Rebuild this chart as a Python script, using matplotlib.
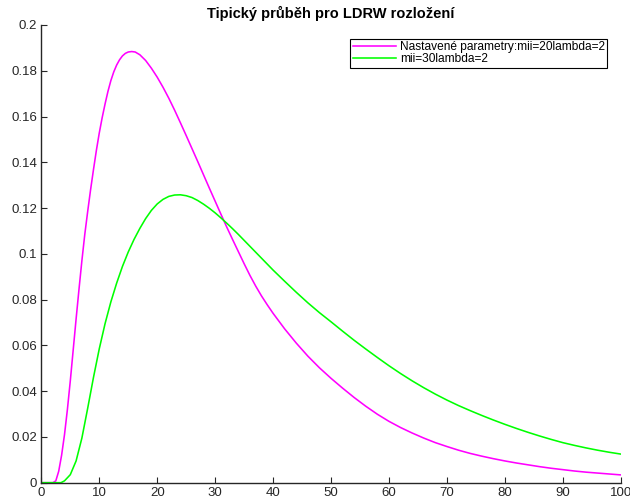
import matplotlib
matplotlib.use("Agg")
import matplotlib.pyplot as plt

plt.rcParams['font.family'] = ['Liberation Sans', 'DejaVu Sans']

# values
x_mii20 = [0, 2.0, 2.5, 3.0, 3.5, 4.0, 4.5, 5.0, 5.5, 6.0, 6.5, 7.0, 7.5, 8.0,
           8.5, 9.0, 9.5, 10.0, 10.5, 11.0, 11.5, 12.0, 12.5, 13.0, 13.5, 14.0,
           14.5, 15.0, 15.6, 16.2, 17.0, 18.0, 19.0, 20.0, 21.0, 22.0, 23.0, 24.0,
           25.0, 26.0, 27.0, 28.0, 29.0, 30.0, 31.0, 32.0, 33.0, 34.0, 35.0, 36.0,
           37.0, 38.0, 39.0, 40.0, 42.0, 44.0, 46.0, 48.0, 50.0, 52.0, 54.0, 56.0,
           58.0, 60.0, 62.0, 64.0, 66.0, 68.0, 70.0, 72.0, 74.0, 76.0, 78.0, 80.0,
           82.0, 84.0, 86.0, 88.0, 90.0, 92.0, 94.0, 96.0, 98.0, 100.0]
y_mii20 = [0, 0, 0.0008, 0.005, 0.012, 0.021, 0.032, 0.0445, 0.058, 0.0715,
           0.0845, 0.097, 0.1085, 0.1185, 0.128, 0.1368, 0.1452, 0.1528, 0.1595,
           0.1655, 0.171, 0.1757, 0.1795, 0.1825, 0.1848, 0.1865, 0.1876, 0.1882,
           0.1884, 0.1882, 0.1870, 0.1845, 0.1811, 0.1772, 0.1728, 0.1680, 0.1628,
           0.1573, 0.1517, 0.1460, 0.1403, 0.1345, 0.1287, 0.1230, 0.1173, 0.1117,
           0.1063, 0.1010, 0.0957, 0.0906, 0.0859, 0.0816, 0.0777, 0.0740, 0.0672,
           0.0610, 0.0553, 0.0502, 0.0456, 0.0413, 0.0372, 0.0334, 0.0299, 0.0268,
           0.0241, 0.0217, 0.0195, 0.0175, 0.0158, 0.0142, 0.0128, 0.0116, 0.0105,
           0.0095, 0.0086, 0.0078, 0.0070, 0.0063, 0.0057, 0.0051, 0.0046, 0.0042,
           0.0038, 0.0034]

x_mii30 = [0, 3.4, 4.0, 5.0, 6.0, 7.0, 8.0, 9.0, 10.0, 11.0, 12.0, 13.0, 14.0,
           15.0, 16.0, 17.0, 18.0, 19.0, 20.0, 21.0, 22.0, 23.0, 24.0, 25.0, 26.0,
           27.0, 28.0, 29.0, 30.0, 31.0, 32.0, 33.0, 34.0, 35.0, 36.0, 37.0, 38.0,
           39.0, 40.0, 42.0, 44.0, 46.0, 48.0, 50.0, 52.0, 54.0, 56.0, 58.0, 60.0,
           62.0, 64.0, 66.0, 68.0, 70.0, 72.0, 74.0, 76.0, 78.0, 80.0, 82.0, 84.0,
           86.0, 88.0, 90.0, 92.0, 94.0, 96.0, 98.0, 100.0]
y_mii30 = [0, 0, 0.0008, 0.0035, 0.0095, 0.0195, 0.0325, 0.046, 0.0585, 0.0695,
           0.079, 0.0872, 0.0945, 0.1008, 0.1063, 0.1111, 0.1154, 0.1190, 0.1218,
           0.1238, 0.1251, 0.1257, 0.1258, 0.1254, 0.1246, 0.1233, 0.1217, 0.1199,
           0.1179, 0.1157, 0.1134, 0.1110, 0.1085, 0.1059, 0.1033, 0.1007, 0.0981,
           0.0955, 0.0929, 0.0880, 0.0832, 0.0786, 0.0743, 0.0703, 0.0662, 0.0622,
           0.0584, 0.0547, 0.0511, 0.0477, 0.0445, 0.0415, 0.0387, 0.0361, 0.0337,
           0.0315, 0.0294, 0.0274, 0.0255, 0.0237, 0.0220, 0.0204, 0.0189, 0.0175,
           0.0163, 0.0152, 0.0142, 0.0133, 0.0125]

x_ticks = [0, 10, 20, 30, 40, 50, 60, 70, 80, 90, 100]
y_ticks = [0, 0.02, 0.04, 0.06, 0.08, 0.1, 0.12, 0.14, 0.16, 0.18, 0.2]
y_tick_labels = ['0', '0.02', '0.04', '0.06', '0.08', '0.1', '0.12', '0.14',
                 '0.16', '0.18', '0.2']

fig = plt.figure(figsize=(6.3, 5.03), dpi=100)
ax = fig.add_axes([0.0656, 0.0404, 0.9197, 0.9099])

ax.plot(x_mii20, y_mii20, color='#ff00ff', lw=1.15,
        label='Nastavené parametry:mii=20lambda=2')
ax.plot(x_mii30, y_mii30, color='#00ff00', lw=1.15, label='mii=30lambda=2')

ax.set_xlim(0, 100)
ax.set_ylim(0, 0.2)
ax.set_xticks(x_ticks)
ax.set_yticks(y_ticks)
ax.set_yticklabels(y_tick_labels)

for s in ['top', 'right']:
    ax.spines[s].set_visible(False)
for s in ['left', 'bottom']:
    ax.spines[s].set_color('#262626')
    ax.spines[s].set_linewidth(1.0)
ax.tick_params(direction='in', length=4.5, width=0.8, color='#262626',
               labelcolor='#262626', labelsize=9.5, pad=3)

ax.set_title('Tipický průběh pro LDRW rozložení', fontsize=10.5,
             fontweight='bold', pad=5)

leg = ax.legend(loc='upper right', bbox_to_anchor=(0.964, 0.923),
                bbox_transform=fig.transFigure, borderaxespad=0,
                fancybox=False, edgecolor='black', framealpha=1,
                fontsize=8.6, handlelength=3.6, handletextpad=0.35,
                labelspacing=0, borderpad=0.2)
leg.get_frame().set_linewidth(0.8)

fig.savefig('out.png', dpi=100)
